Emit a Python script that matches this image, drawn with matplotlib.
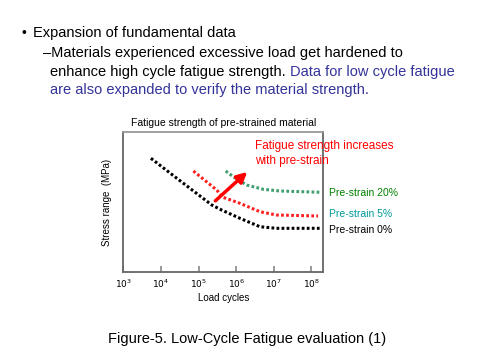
import matplotlib
matplotlib.use('Agg')
import matplotlib.pyplot as plt
from matplotlib.text import Annotation

plt.rcParams['font.family'] = ['Liberation Sans', 'DejaVu Sans']

# log10(load cycles) and stress (arbitrary units, axis unlabelled)
logn_0 = [3.73, 4.50, 5.35, 5.61, 6.10, 6.63, 7.07, 8.27]
stress_0 = [113.7, 91.4, 67.0, 62.0, 53.7, 45.3, 43.7, 43.7]
logn_5 = [4.86, 5.48, 5.65, 6.10, 6.63, 7.07, 8.18]
stress_5 = [101.0, 82.0, 74.7, 68.7, 60.3, 57.0, 56.0]
logn_20 = [5.72, 5.92, 6.28, 6.72, 7.16, 8.27]
stress_20 = [101.0, 95.3, 87.0, 82.7, 81.0, 79.7]

tick_exps = [3, 4, 5, 6, 7, 8]
series_labels = ['Pre-strain 20%', 'Pre-strain 5%', 'Pre-strain 0%']

fig = plt.figure(figsize=(4.82, 3.62), dpi=100)
fig.patch.set_facecolor('white')

# slide text
blue = '#33339a'
fig.text(22/482, 1 - 33/362, '\u2022', fontsize=10, va='center')
fig.text(33/482, 1 - 33/362, 'Expansion of fundamental data', fontsize=10.5, va='center')
fig.text(43/482, 1 - 53/362, '\u2013Materials experienced excessive load get hardened to',
         fontsize=10.5, va='center')
t1 = fig.text(50/482, 1 - 72/362, 'enhance high cycle fatigue strength. ', fontsize=10.5,
              va='center')
fig.add_artist(Annotation('Data for low cycle fatigue', xy=(1, 0.5), xycoords=t1,
                          va='center', ha='left', fontsize=10.5, color=blue))
fig.text(50/482, 1 - 90/362, 'are also expanded to verify the material strength.',
         fontsize=10.5, va='center', color=blue)

fig.text(247/482, 1 - 339/362, 'Figure-5. Low-Cycle Fatigue evaluation (1)',
         fontsize=10.5, ha='center', va='center')

ax = fig.add_axes([123.5/482, 90/362, (323 - 123.5)/482, 140/362])
ax.set_xscale('log')
xs0 = [10**v for v in logn_0]
xs5 = [10**v for v in logn_5]
xs20 = [10**v for v in logn_20]
ax.plot(xs0, stress_0, ls=(0, (0.9, 0.75)), lw=2.2, color='black')
ax.plot(xs5, stress_5, ls=(0, (0.9, 0.75)), lw=2.2, color='#ff2020')
ax.plot(xs20, stress_20, ls=(0, (0.9, 0.75)), lw=2.2, color='#3f9f6f')

ax.annotate('', xy=(10**6.35, 102), xytext=(10**5.39, 69.3),
            arrowprops=dict(arrowstyle='-|>,head_length=0.6,head_width=0.3',
                            color='#ff0000', lw=2.5))
ax.text(10**6.5, 132, 'Fatigue strength increases\nwith pre-strain', color='#ff0000',
        fontsize=8.5, va='top', ha='left', linespacing=1.3, clip_on=False)

ax.set_xlim(10**3, 10**8.31)
ax.set_ylim(0, 140)
ax.set_xticks([10**e for e in tick_exps])
ax.set_xticklabels([f'$10^{{{e}}}$' for e in tick_exps], fontsize=6.5)
ax.minorticks_off()
ax.set_yticks([])
ax.tick_params(axis='x', direction='in', length=4, width=1.2, color='#888888', pad=4)
for s in ax.spines.values():
    s.set_color('#666666')
    s.set_linewidth(1.3)
ax.spines['top'].set_color('#999999')

ax.set_title('Fatigue strength of pre-strained material', fontsize=7.5, pad=4)
ax.set_xlabel('Load cycles', fontsize=7, labelpad=2)
ax.set_ylabel('Stress range  (MPa)', fontsize=7, labelpad=8)

label_colors = ['#008000', '#009999', 'black']
label_y = [78.7, 58, 42]
for lab, c, yv in zip(series_labels, label_colors, label_y):
    ax.text(1.03, yv / 140, lab, transform=ax.transAxes, color=c, fontsize=7.5,
            va='center', ha='left', clip_on=False)

fig.savefig('out.png', dpi=100)
